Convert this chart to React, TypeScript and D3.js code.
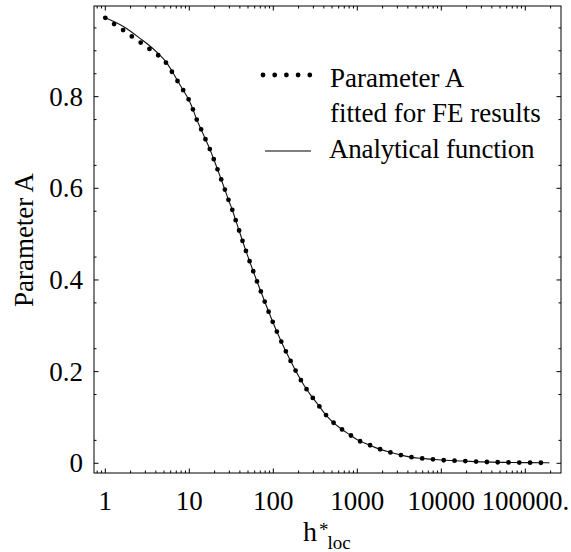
import React from "react";
import * as d3 from "d3";

// FE results (dotted) — h*_loc and fitted parameter A
const feH = [1, 1.28, 1.64, 2.08, 2.64, 3.37, 4.28, 5.28, 6.22, 7.19, 8.41, 10, 11, 12.2, 13.8, 15.5, 17.5, 19.5, 21.5, 23.8, 26.4, 29.1, 32.2, 35, 46.9, 70, 108, 158, 238, 286, 344, 412, 504, 634, 804, 1028, 1352, 1778, 2339, 3133, 4159, 5572, 7482, 10000, 18000, 31600, 56200, 100000, 193000];
const feA = [0.972, 0.958, 0.945, 0.931, 0.918, 0.904, 0.89, 0.874, 0.854, 0.835, 0.815, 0.791, 0.773, 0.751, 0.729, 0.708, 0.686, 0.664, 0.643, 0.621, 0.598, 0.576, 0.555, 0.535, 0.465, 0.378, 0.291, 0.226, 0.167, 0.146, 0.127, 0.108, 0.091, 0.076, 0.063, 0.05, 0.041, 0.032, 0.025, 0.019, 0.014, 0.011, 0.009, 0.007, 0.005, 0.003, 0.002, 0.0015, 0.001];

// Analytical function (solid)
const anH = [1, 1.64, 2.64, 3.37, 4.28, 5.28, 6.22, 7.19, 8.41, 10, 11, 12.2, 13.8, 15.5, 17.5, 19.5, 21.5, 23.8, 26.4, 29.1, 32.2, 35, 46.9, 70, 108, 158, 238, 286, 344, 412, 504, 634, 804, 1028, 1352, 1778, 2339, 3133, 4159, 5572, 7482, 10000, 18000, 31600, 56200, 100000, 193000];
const anA = [0.972, 0.953, 0.926, 0.911, 0.894, 0.876, 0.856, 0.836, 0.815, 0.791, 0.773, 0.751, 0.729, 0.708, 0.686, 0.664, 0.643, 0.621, 0.598, 0.576, 0.555, 0.535, 0.465, 0.378, 0.291, 0.226, 0.167, 0.146, 0.127, 0.108, 0.091, 0.076, 0.063, 0.05, 0.041, 0.032, 0.025, 0.019, 0.014, 0.011, 0.009, 0.007, 0.005, 0.003, 0.002, 0.0015, 0.001];

const xTickValues = [1, 10, 100, 1000, 10000, 100000];
const xTickLabels = ["1", "10", "100", "1000", "10000", "100000."];
const yTickValues = [0, 0.2, 0.4, 0.6, 0.8];
const yTickLabels = ["0", "0.2", "0.4", "0.6", "0.8"];
const legendLabels = ["Parameter A", "fitted for FE results", "Analytical function"];

const FONT = "Liberation Serif, Times New Roman, DejaVu Serif, serif";

export default function App() {
  const W = 571, H = 552;
  const L = 94, R = 561, T = 6, B = 473;
  const x = d3.scaleLog().domain([Math.pow(10, -0.1345), Math.pow(10, 5.425)]).range([L, R]);
  const y = d3.scaleLinear().domain([-0.0212, 0.9978]).range([B, T]);

  const line = d3.line<[number, number]>().x(d => x(d[0])).y(d => y(d[1])).curve(d3.curveMonotoneX);
  const fePath = line(feH.map((h, i) => [h, feA[i]] as [number, number])) || "";
  const anPath = line(anH.map((h, i) => [h, anA[i]] as [number, number])) || "";

  const [d0, d1] = x.domain();
  const minorX: number[] = [];
  for (let e = -1; e <= 6; e++) {
    for (let m = 2; m <= 9; m++) {
      const v = m * Math.pow(10, e);
      if (v > d0 && v < d1) minorX.push(v);
    }
  }
  const minorY: number[] = [];
  for (let v = 0.05; v < 0.99; v += 0.1) minorY.push(+v.toFixed(2));
  minorY.push(0.9);

  const MJ = 4.5, MN = 2.5;
  const fs = 27;
  const tstyle = { fontFamily: FONT, fontSize: fs } as React.CSSProperties;

  return (
    <svg width={W} height={H} style={{ position: "absolute", left: 0, top: 0, background: "#fff" }}>
      <rect x={0} y={0} width={W} height={H} fill="#fff" />
      <path d={anPath} fill="none" stroke="#111" strokeWidth={1.1} />
      <path d={fePath} fill="none" stroke="#000" strokeWidth={4.8} strokeLinecap="round" strokeDasharray="0 10.8" />

      <rect x={L} y={T} width={R - L} height={B - T} fill="none" stroke="#000" strokeWidth={1} />

      {xTickValues.map((v, i) => (
        <g key={"xt" + i}>
          <line x1={x(v)} x2={x(v)} y1={B} y2={B - MJ} stroke="#000" />
          <line x1={x(v)} x2={x(v)} y1={T} y2={T + MJ} stroke="#000" />
          <text x={x(v)} y={510} style={tstyle} textAnchor="middle">{xTickLabels[i]}</text>
        </g>
      ))}
      {minorX.map((v, i) => (
        <g key={"xm" + i}>
          <line x1={x(v)} x2={x(v)} y1={B} y2={B - MN} stroke="#000" />
          <line x1={x(v)} x2={x(v)} y1={T} y2={T + MN} stroke="#000" />
        </g>
      ))}

      {yTickValues.map((v, i) => (
        <g key={"yt" + i}>
          <line x1={L} x2={L + MJ} y1={y(v)} y2={y(v)} stroke="#000" />
          <line x1={R} x2={R - MJ} y1={y(v)} y2={y(v)} stroke="#000" />
          <text x={83} y={y(v)} dy="0.33em" style={tstyle} textAnchor="end">{yTickLabels[i]}</text>
        </g>
      ))}
      {minorY.map((v, i) => (
        <g key={"ym" + i}>
          <line x1={L} x2={L + MN} y1={y(v)} y2={y(v)} stroke="#000" />
          <line x1={R} x2={R - MN} y1={y(v)} y2={y(v)} stroke="#000" />
        </g>
      ))}

      <text transform={`translate(33,240) rotate(-90)`} style={tstyle} textAnchor="middle">Parameter A</text>
      <text x={303} y={541} style={{ fontFamily: FONT, fontSize: 28 }}>
        h
        <tspan dx={2} dy={-5} style={{ fontSize: 19 }}>*</tspan>
        <tspan dx={-1} dy={13} style={{ fontSize: 19 }}>loc</tspan>
      </text>

      <line x1={263} x2={310} y1={75} y2={75} stroke="#000" strokeWidth={4.8} strokeLinecap="round" strokeDasharray="0 11.7" />
      <text x={330} y={87} style={tstyle}>{legendLabels[0]}</text>
      <text x={330} y={122} style={tstyle}>{legendLabels[1]}</text>
      <line x1={265} x2={311} y1={151} y2={151} stroke="#555" strokeWidth={1.5} />
      <text x={329} y={158} style={{ ...tstyle, letterSpacing: -0.2 }}>{legendLabels[2]}</text>
    </svg>
  );
}
